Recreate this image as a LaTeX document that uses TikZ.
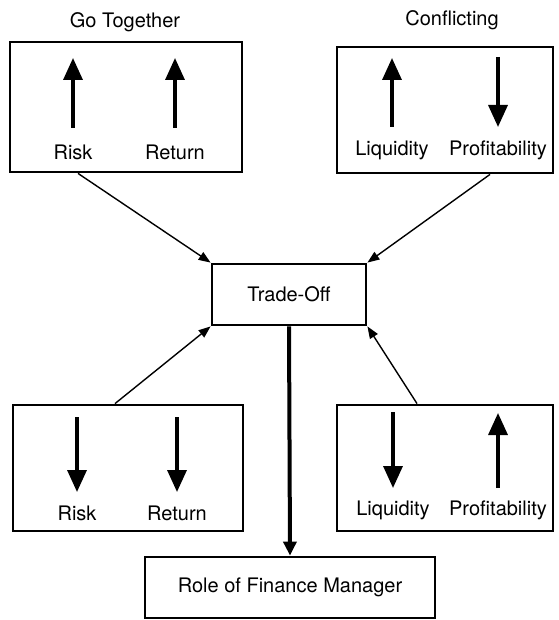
\documentclass[tikz,border=0pt]{standalone}
\usepackage{fontspec}
\setmainfont{TeX Gyre Heros}
\usepackage{tikz}
\usetikzlibrary{arrows.meta}

\begin{document}
\begin{tikzpicture}[x=0.5pt,y=-0.5pt,font=\fontsize{10}{12}\selectfont,
  box/.style={draw,rectangle,line width=1.4pt,inner sep=0pt},
  sym/.style={line width=1.7pt,-{Triangle[width=9.5pt,length=11pt]}},
  link/.style={line width=0.7pt,-{Triangle[width=4.5pt,length=6pt]}},
  main/.style={line width=2pt,-{Triangle[width=6.5pt,length=7pt]}}]
\useasboundingbox (0,0) rectangle (558,620);
% boxes
\node[box,minimum width=116pt,minimum height=65pt](gt) at (126,107) {};
\node[box,minimum width=108pt,minimum height=63pt](cf) at (445,110) {};
\node[box,minimum width=77pt,minimum height=30.5pt](tdo) at (289,294.5) {Trade-Off};
\node[box,minimum width=115pt,minimum height=63pt](bl) at (128,468) {};
\node[box,minimum width=108pt,minimum height=63pt](br) at (445,468) {};
\node[box,minimum width=145pt,minimum height=30.5pt](role) at (290,587.5) {Role of Finance Manager};
% titles
\node(gtT) at (125,22) {Go Together};
\node(cfT) at (452,20) {Conflicting};
% labels
\node(rsk1) at (73,152) {Risk};
\node(ret1) at (175,152) {Return};
\node(liq1) at (392,150) {Liquidity};
\node(pro1) at (498,150) {Profitability};
\node(rsk2) at (77,513) {Risk};
\node(ret2) at (177,513) {Return};
\node(liq2) at (393,510) {Liquidity};
\node(pro2) at (498,510) {Profitability};
\foreach \n/\s/\e in %
{rsk1/-24/-94,ret1/-24/-94,liq1/-23/-92,pro1/-93/-23,
 rsk2/-96/-21,ret2/-96/-21,liq2/-98/-22,pro2/-22/-97} {
   \draw[sym] ([shift={(0,\s)}]\n.center) -- ([shift={(0,\e)}]\n.center);
}
% connectors
\draw[link] ([shift={(-48,0)}]gt.south) -- (tdo.north west);
\draw[link] ([shift={(45,0)}]cf.south) -- (tdo.north east);
\draw[link] ([shift={(-13,0)}]bl.north) -- (tdo.south west);
\draw[link] ([shift={(-28,0)}]br.north) -- (tdo.south east);
\draw[main] (tdo.south) -- (role.north);
\end{tikzpicture}
\end{document}
